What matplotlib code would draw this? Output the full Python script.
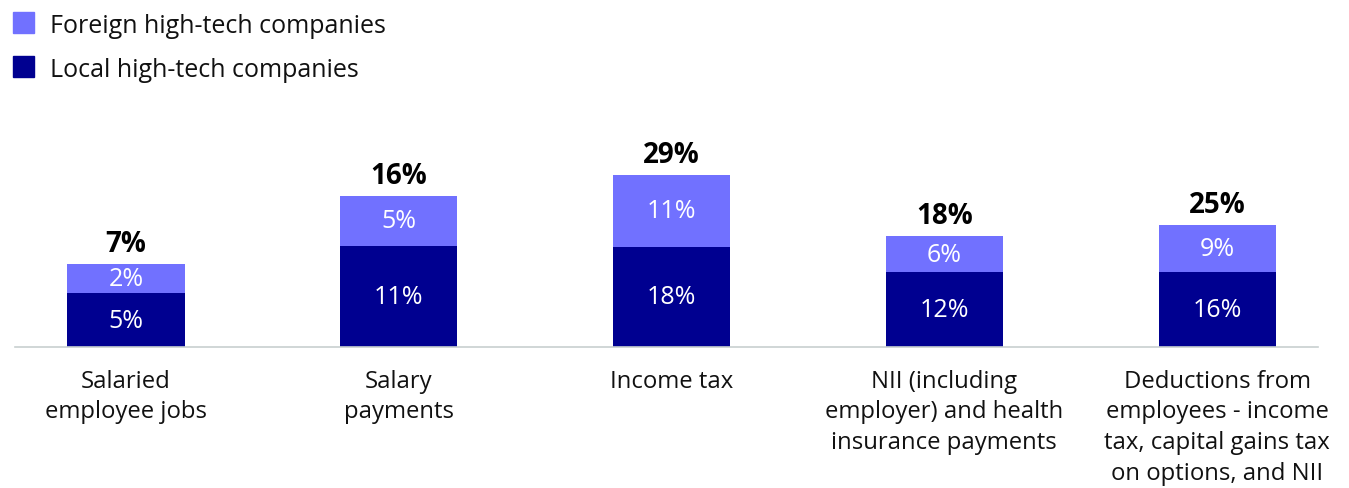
import matplotlib
matplotlib.use("Agg")
import matplotlib.pyplot as plt
from matplotlib.patches import Rectangle

plt.rcParams['font.family'] = ['Open Sans', 'DejaVu Sans']

categories = ["Salaried\nemployee jobs", "Salary\npayments", "Income tax",
              "NII (including\nemployer) and health\ninsurance payments",
              "Deductions from\nemployees - income\ntax, capital gains tax\non options, and NII"]
# bar heights as drawn (display units)
local_height = [54, 101, 100, 75, 75]
foreign_height = [29, 50, 72, 36, 47]
# printed percentage labels
local_pct = [5, 11, 18, 12, 16]
foreign_pct = [2, 5, 11, 6, 9]
total_pct = [7, 16, 29, 18, 25]

series_names = ["Foreign high-tech companies", "Local high-tech companies"]
c_foreign = "#7171FF"
c_local = "#000090"

W, H = 1349, 489
fig = plt.figure(figsize=(W / 100, H / 100), dpi=100)
ax_left, ax_right = 15, 1318
ax_bottom_px, ax_top_px = 348, 100
ax = fig.add_axes([ax_left / W, 1 - ax_bottom_px / H,
                   (ax_right - ax_left) / W, (ax_bottom_px - ax_top_px) / H])

x = list(range(len(categories)))
step = 272.75
xmin = (ax_left - 126) / step
xmax = (ax_right - 126) / step
width = 117 / step

ax.bar(x, local_height, width=width, color=c_local, zorder=2)
ax.bar(x, foreign_height, width=width, bottom=local_height, color=c_foreign, zorder=2)
ax.set_xlim(xmin, xmax)
ax.set_ylim(0, ax_bottom_px - ax_top_px)

for i in x:
    ax.text(i, local_height[i] / 2, f"{local_pct[i]}%", ha='center', va='center',
            color='white', fontsize=18)
    ax.text(i, local_height[i] + foreign_height[i] / 2, f"{foreign_pct[i]}%",
            ha='center', va='center', color='white', fontsize=18)
    ax.annotate(f"{total_pct[i]}%", (i, local_height[i] + foreign_height[i]),
                xytext=(0, 9.5), textcoords='offset points', ha='center', va='baseline',
                fontsize=20, fontweight='bold', color='black')
    ax.annotate(categories[i], (i, 0), xycoords=('data', 'axes fraction'),
                xytext=(0, -15.5), textcoords='offset points', ha='center', va='top',
                fontsize=17.2, color='#111111', linespacing=1.38, multialignment='center')

for s in ['top', 'right', 'left']:
    ax.spines[s].set_visible(False)
ax.spines['bottom'].set_color('#c8d0d0')
ax.spines['bottom'].set_linewidth(1.2)
ax.set_xticks([])
ax.set_yticks([])

# legend
for j, (name, col) in enumerate(zip(series_names, [c_foreign, c_local])):
    yc = 23.5 + 44 * j
    fig.add_artist(Rectangle((13 / W, 1 - (yc + 10.5) / H), 21 / W, 21 / H,
                             transform=fig.transFigure, color=col))
    fig.text(50 / W, 1 - (yc + 3) / H, name, ha='left', va='center', fontsize=18, color='#111111')

fig.savefig("out.png", dpi=100)
